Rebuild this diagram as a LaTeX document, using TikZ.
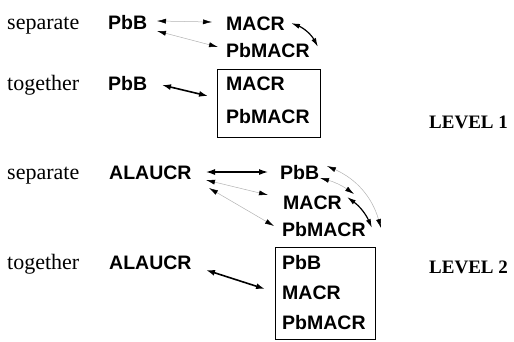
\documentclass[tikz,border=0pt]{standalone}
\usepackage{fontspec}
\setmainfont{Liberation Serif}
\newfontfamily\chemfont{Liberation Sans}
\usetikzlibrary{arrows.meta}
\begin{document}
\begin{tikzpicture}[x=1pt,y=-1pt,
  lbl/.style={anchor=base west,inner sep=0pt,font=\fontsize{22}{25}\selectfont},
  chem/.style={anchor=base west,inner sep=0pt,font=\chemfont\bfseries\fontsize{19.5}{23}\selectfont},
  lvl/.style={anchor=base west,inner sep=0pt,font=\bfseries\fontsize{19}{22}\selectfont},
  grp/.style={draw,line width=0.8pt,inner sep=0pt},
  faint/.style={draw=black!30,line width=0.5pt,
    {Latex[length=9pt,width=5pt,color=black]}-{Latex[length=9pt,width=5pt,color=black]}},
  solid2/.style={draw=black,line width=1.6pt,
    {Latex[length=9pt,width=6pt]}-{Latex[length=9pt,width=6pt]}}
]
\useasboundingbox (0,0) rectangle (514,341);

% LEVEL 1
\node[lbl] (sep1) at (7,29) {separate};
\node[chem] (pbb1) at (108,29) {PbB};
\node[chem] (macr1) at (226,30) {MACR};
\node[chem] (pbmacr1) at (226,57) {PbMACR};

\node[lbl] (tog1) at (7,90) {together};
\node[chem] (pbb2) at (108,90) {PbB};
\node[grp,minimum width=103pt,minimum height=68pt] (box1) at (268.5,103) {};
\node[chem] (macr2) at (226,90) {MACR};
\node[chem] (pbmacr2) at (226,123) {PbMACR};
\node[lvl] (lev1) at (429,128) {LEVEL 1};

% LEVEL 2
\node[lbl] (sep2) at (7,179) {separate};
\node[chem] (ala1) at (109,179) {ALAUCR};
\node[chem] (pbb3) at (280,179) {PbB};
\node[chem] (macr3) at (283,209) {MACR};
\node[chem] (pbmacr3) at (282,236) {PbMACR};

\node[lbl] (tog2) at (7,269) {together};
\node[chem] (ala2) at (109,269) {ALAUCR};
\node[grp,minimum width=100pt,minimum height=92pt] (box2) at (325,293) {};
\node[chem] (pbb4) at (282,269) {PbB};
\node[chem] (macr4) at (282,299) {MACR};
\node[chem] (pbmacr4) at (282,329) {PbMACR};
\node[lvl] (lev2) at (429,273) {LEVEL 2};

% connector end points
\coordinate (a1s) at (157,21); \coordinate (a1e) at (212,22);
\coordinate (a2s) at (157,31); \coordinate (a2e) at (218,47);
\coordinate (a3s) at (291,23); \coordinate (a3e) at (318,47);
\coordinate (a4s) at (162,85); \coordinate (a4e) at (208,96);

\coordinate (b1s) at (206,172); \coordinate (b1e) at (268,172);
\coordinate (b2s) at (206,180); \coordinate (b2e) at (268,195);
\coordinate (b3s) at (209,188); \coordinate (b3e) at (274,226);
\coordinate (b4s) at (320,178); \coordinate (b4e) at (354,194);
\coordinate (b5s) at (327,166); \coordinate (b5e) at (381,228);
\coordinate (b6s) at (347,197); \coordinate (b6e) at (372,228);
\coordinate (b7s) at (206,270); \coordinate (b7e) at (265,289);

\draw[faint] (a1s) -- (a1e);
\draw[faint] (a2s) -- (a2e);
\draw[faint,line width=1.2pt,draw=black] (a3s) to[bend left=20] (a3e);
\draw[solid2] (a4s) -- (a4e);

\draw[solid2,line width=1.2pt] (b1s) -- (b1e);
\draw[faint] (b2s) -- (b2e);
\draw[faint] (b3s) -- (b3e);
\draw[faint] (b4s) to[bend left=10] (b4e);
\draw[faint] (b5s) to[bend left=25] (b5e);
\draw[faint,line width=1.2pt,draw=black] (b6s) to[bend left=15] (b6e);
\draw[solid2] (b7s) -- (b7e);
\end{tikzpicture}
\end{document}
